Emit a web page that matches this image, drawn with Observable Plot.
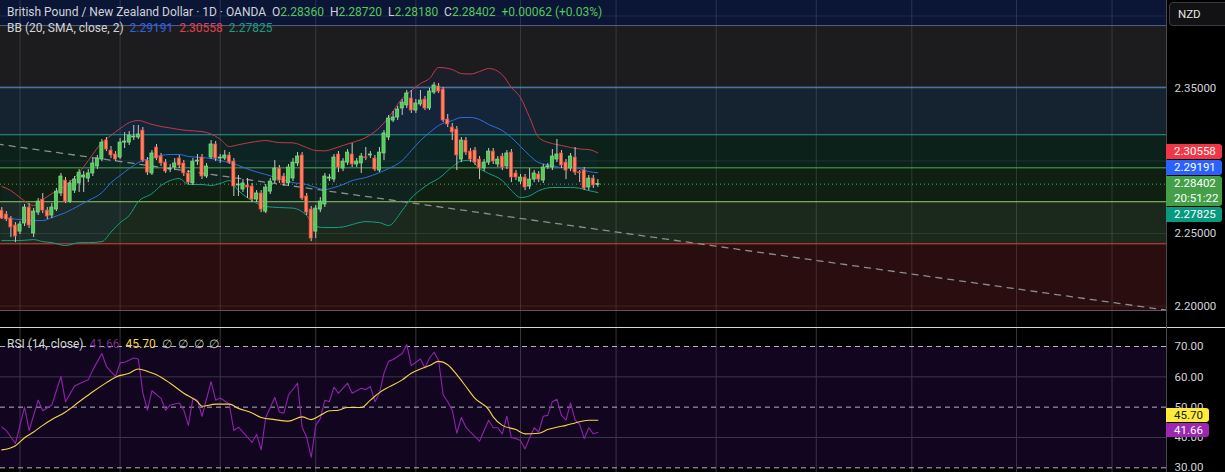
<!DOCTYPE html>
<html><head><meta charset="utf-8">
<script src="https://cdn.jsdelivr.net/npm/d3@7"></script>
<script src="https://cdn.jsdelivr.net/npm/@observablehq/plot@0.6"></script>
<style>
html,body{margin:0;padding:0;background:#000;}
#wrap{position:relative;width:1225px;height:472px;overflow:hidden;background:#000;font-family:Roboto,"Liberation Sans",sans-serif;font-size:11.5px;color:#d1d4dc;}
#main{position:absolute;left:0;top:0;}
#rsi{position:absolute;left:0;top:328px;}
.leg{position:absolute;left:7px;white-space:pre;line-height:14px;font-size:12px;}
.badge{position:absolute;left:1166px;color:#fff;padding-left:8px;border-radius:0 3px 3px 0;line-height:15px;height:15px;box-sizing:border-box;}
#nzd{position:absolute;left:1169px;top:2px;width:62px;height:24px;border:1px solid #3c3c40;border-radius:4px;background:#121214;color:#e6e6e6;box-sizing:border-box;padding-left:8px;line-height:22px;font-size:11.5px;}
</style></head>
<body><div id="wrap">
<div id="main"></div>
<div id="rsi"></div>
</div>
<script>
// ---------------- DATA ----------------
const title = "British Pound / New Zealand Dollar · 1D · OANDA";
const ohlcLegend = {O:"2.28360", H:"2.28720", L:"2.28180", C:"2.28402", chg:"+0.00062 (+0.03%)"};
const currency = "NZD";
const countdown = "20:51:22";

const candleOpen = [2.2658,2.2631,2.2603,2.2555,2.2513,2.2569,2.2679,2.2500,2.2644,2.2734,
2.2658,2.2624,2.2665,2.2776,2.2865,2.2720,2.2796,2.2845,2.2886,2.2879,
2.2914,2.2962,2.3010,2.3141,2.3072,2.3045,2.3024,2.3127,2.3127,2.3162,
2.3162,2.3210,2.3003,2.2914,2.3093,2.3031,2.2989,2.2941,2.2955,2.3017,
2.2983,2.2914,2.2845,2.2996,2.3024,2.2893,2.3024,2.3114,2.3017,2.3017,
2.3038,2.2996,2.2831,2.2803,2.2831,2.2824,2.2734,2.2776,2.2651,2.2789,
2.2865,2.2948,2.2893,2.2845,2.2879,2.2983,2.3038,2.2755,2.2665,2.2513,
2.2665,2.2700,2.2879,2.2872,2.3045,2.2948,2.2989,2.3045,2.2976,2.2983,
2.3024,2.3038,2.3017,2.2934,2.3052,2.3162,2.3279,2.3300,2.3362,2.3383,
2.3431,2.3348,2.3390,2.3424,2.3362,2.3472,2.3514,2.3493,2.3286,2.3231,
2.3217,2.3010,2.3141,2.3065,2.3072,2.3010,2.2948,2.2989,2.3065,2.2976,
2.3031,2.2962,2.3058,2.2914,2.2858,2.2886,2.2824,2.2872,2.2907,2.2865,
2.2958,2.2955,2.3010,2.3052,2.2989,2.2948,2.3024,2.2920,2.2934,2.2817,
2.2879,2.2836];
const candleHigh = [2.2679,2.2651,2.2617,2.2575,2.2582,2.2700,2.2707,2.2672,2.2741,2.2776,
2.2679,2.2707,2.2810,2.2914,2.2886,2.2865,2.2893,2.2941,2.2927,2.2941,
2.3017,2.3038,2.3148,2.3162,2.3100,2.3065,2.3155,2.3196,2.3203,2.3245,
2.3245,2.3231,2.3024,2.3072,2.3114,2.3052,2.3010,2.2976,2.3017,2.3038,
2.3003,2.2934,2.3017,2.3045,2.3045,2.2983,2.3141,2.3134,2.3045,2.3072,
2.3058,2.3017,2.2900,2.2872,2.2879,2.2845,2.2796,2.2796,2.2838,2.2879,
2.3003,2.2969,2.2914,2.2976,2.3017,2.3058,2.3058,2.2776,2.2686,2.2693,
2.2748,2.2914,2.2907,2.3045,2.3065,2.3017,2.3079,2.3121,2.3017,2.3052,
2.3093,2.3065,2.3038,2.3093,2.3210,2.3314,2.3341,2.3376,2.3424,2.3486,
2.3486,2.3424,2.3486,2.3445,2.3500,2.3541,2.3534,2.3507,2.3321,2.3259,
2.3238,2.3162,2.3162,2.3086,2.3093,2.3031,2.3010,2.3086,2.3086,2.3031,
2.3052,2.3072,2.3079,2.2934,2.2907,2.2907,2.2948,2.2934,2.2927,2.2976,
2.2983,2.3079,2.3148,2.3072,2.3010,2.3052,2.3093,2.2934,2.2955,2.2900,
2.2900,2.2872];
const candleLow = [2.2596,2.2582,2.2472,2.2437,2.2493,2.2548,2.2534,2.2472,2.2624,2.2637,
2.2596,2.2603,2.2651,2.2755,2.2707,2.2707,2.2776,2.2783,2.2783,2.2851,
2.2893,2.2941,2.2996,2.3065,2.3017,2.2996,2.3010,2.3086,2.3107,2.3141,
2.3148,2.2989,2.2900,2.2900,2.3003,2.2962,2.2914,2.2920,2.2934,2.2948,
2.2893,2.2838,2.2831,2.2969,2.2872,2.2879,2.3010,2.2996,2.2983,2.3003,
2.2976,2.2755,2.2755,2.2783,2.2741,2.2714,2.2714,2.2644,2.2637,2.2769,
2.2845,2.2845,2.2824,2.2824,2.2858,2.2962,2.2727,2.2624,2.2444,2.2465,
2.2644,2.2679,2.2858,2.2851,2.2920,2.2927,2.2969,2.2955,2.2955,2.2914,
2.3003,2.3017,2.2927,2.2920,2.3003,2.3141,2.3265,2.3279,2.3314,2.3362,
2.3328,2.3328,2.3376,2.3348,2.3348,2.3459,2.3466,2.3265,2.3231,2.3141,
2.2934,2.2989,2.3038,2.2989,2.2969,2.2872,2.2927,2.2969,2.2976,2.2955,
2.2934,2.2941,2.2851,2.2865,2.2838,2.2796,2.2803,2.2851,2.2851,2.2845,
2.2941,2.2934,2.2989,2.2948,2.2872,2.2927,2.2900,2.2851,2.2796,2.2796,
2.2810,2.2818];
const candleClose = [2.2603,2.2596,2.2541,2.2479,2.2562,2.2679,2.2555,2.2651,2.2720,2.2658,
2.2617,2.2679,2.2789,2.2893,2.2720,2.2845,2.2872,2.2920,2.2900,2.2914,
2.2983,2.3017,2.3127,2.3079,2.3038,2.3010,2.3127,2.3134,2.3176,2.3169,
2.3183,2.3003,2.2920,2.3052,2.3017,2.2983,2.2927,2.2948,2.2983,2.2969,
2.2914,2.2851,2.2996,2.3003,2.2893,2.2962,2.3114,2.3017,2.3024,2.3038,
2.2989,2.2824,2.2838,2.2845,2.2817,2.2734,2.2776,2.2665,2.2817,2.2858,
2.2948,2.2865,2.2845,2.2955,2.2989,2.3031,2.2741,2.2644,2.2465,2.2672,
2.2720,2.2893,2.2886,2.3024,2.2955,2.2996,2.3058,2.2976,2.2996,2.3031,
2.3020,2.3045,2.2941,2.3058,2.3190,2.3293,2.3300,2.3355,2.3403,2.3466,
2.3348,2.3397,2.3417,2.3362,2.3479,2.3521,2.3479,2.3279,2.3252,2.3197,
2.3038,2.3141,2.3058,2.3010,2.2989,2.2948,2.2989,2.3065,2.2996,2.3010,
2.2955,2.3052,2.2886,2.2886,2.2886,2.2817,2.2872,2.2914,2.2872,2.2955,
2.2962,2.3031,2.3045,2.2969,2.2934,2.3031,2.2920,2.2917,2.2810,2.2879,
2.2831,2.28402];

// Bollinger Bands (20, SMA, close, 2), read at these bar numbers
const bbBars = [0,2,4,7,9,11,14,17,19,22,24,26,28,30,33,35,37,39,41,44,46,48,50,52,55,58,61,64,67,69,71,73,75,77,80,83,85,88,90,92,94,96,99,101,103,105,107,110,112,114,116,118,121,123,125,127,129,131];
const bbUpper = [2.2824,2.2796,2.2748,2.2693,2.2734,2.2775,2.2831,2.2920,2.3003,2.3127,2.3176,2.3224,2.3265,2.3279,2.3252,2.3238,2.3228,2.3217,2.3210,2.3203,2.3186,2.3150,2.3100,2.3112,2.3130,2.3141,2.3127,2.3125,2.3093,2.3072,2.3070,2.3086,2.3107,2.3127,2.3162,2.3230,2.3300,2.3431,2.3486,2.3534,2.3569,2.3645,2.3631,2.3603,2.3600,2.3617,2.3638,2.3595,2.3507,2.3438,2.3300,2.3162,2.3120,2.3107,2.3093,2.3083,2.3079,2.30558];
const bbBasis = [2.2617,2.2603,2.2596,2.2589,2.2589,2.2610,2.2644,2.2693,2.2727,2.2782,2.2851,2.2900,2.2948,2.2989,2.3024,2.3038,2.3045,2.3045,2.3031,2.3024,2.3017,2.3003,2.2989,2.2969,2.2934,2.2907,2.2879,2.2851,2.2838,2.2817,2.2803,2.2817,2.2838,2.2865,2.2886,2.2920,2.2948,2.3003,2.3072,2.3141,2.3196,2.3245,2.3279,2.3300,2.3300,2.3286,2.3252,2.3210,2.3162,2.3100,2.3038,2.2989,2.2969,2.2955,2.2955,2.2948,2.2927,2.29191];
const bbLower = [2.2451,2.2451,2.2451,2.2458,2.2444,2.2437,2.2417,2.2437,2.2437,2.2444,2.2510,2.2575,2.2624,2.2720,2.2775,2.2831,2.2865,2.2879,2.2838,2.2838,2.2831,2.2845,2.2865,2.2796,2.2727,2.2686,2.2679,2.2675,2.2624,2.2548,2.2541,2.2541,2.2545,2.2562,2.2582,2.2575,2.2555,2.2658,2.2745,2.2800,2.2845,2.2879,2.2960,2.3000,2.3005,2.2948,2.2914,2.2865,2.2796,2.2748,2.2760,2.2795,2.2817,2.2817,2.2817,2.2812,2.2796,2.27825];

// RSI (14, close) and its moving average
const rsiBars = [0,1,3,5,6,8,9,11,13,14,16,17,19,20,22,23,25,26,27,29,30,31,32,33,35,36,37,39,40,41,42,43,44,46,47,48,50,51,52,55,56,57,58,60,61,62,63,64,65,66,67,68,69,70,71,72,73,74,76,77,79,80,81,82,83,84,85,86,88,89,90,91,92,93,94,95,96,97,98,99,100,101,102,103,105,106,107,108,109,110,111,112,113,114,115,116,117,118,119,120,121,122,123,124,125,126,127,128,129,130,131];
const rsiValues = [43.4,42.3,38,50,42.3,52.3,48.8,50.7,60.1,51.8,57,57.7,59,62.3,67.7,63.4,60.1,64.6,64.8,66.2,65.9,54.7,49,55.4,52.9,49,50.7,51.4,49,44,52.9,52.3,47,58.4,52.3,53,51,42.3,43.4,38.4,41,35.9,46.6,53.2,48.4,48,54,55.9,57.9,43.4,40.1,33.4,44,46.3,52.3,51.8,56.6,54.6,57.9,54.6,56.2,55.8,56.8,51.8,54.6,61.2,65.1,65.7,67.7,70.7,63.7,64.8,65.9,62.9,66.2,68.1,65.4,54,51.8,49,41.4,46.6,43.4,41.8,38.8,42.3,45.7,43.2,43.2,41.2,47,39.9,39.6,39,36.2,39.9,43.2,41.8,47,47.3,51.8,52.6,47.3,45.7,51.4,45.7,44.3,39.6,43.2,41.2,41.66];
const maBars = [0,3,5,7,9,11,14,17,20,23,25,28,30,32,34,37,40,43,44,47,50,52,55,57,60,63,66,68,70,72,74,76,79,81,83,85,88,90,92,94,96,98,100,102,104,107,108,110,113,115,118,120,122,124,126,129,131];
const maValues = [35.9,37.3,39.9,41.8,44,45.9,48.4,51.8,55.1,58.1,59.9,61.2,62.6,61.8,60.7,57.9,54.6,51.8,50.3,51,51,49.6,48.1,46.6,45.9,45.4,46.8,45.9,47.3,48.8,49,49.9,49.9,52.3,54.8,56.6,59,61.2,62.6,63.7,65.1,64,60.7,56.8,52.9,49.2,46.8,44,42.6,41.2,41.4,42.6,43.4,44,44.8,45.7,45.7];
const rsiLast = 41.66, maLast = 45.70;

// Drawings: horizontal zones (price levels), trend line
const zoneLevels = [2.4200, 2.3934, 2.3509, 2.3181, 2.2953, 2.2719, 2.2429, 2.1969];
const trendBars = [-1, 256];
const trendPrices = [2.3117, 2.1971];

// Axes / grid
const priceGrid = [2.40, 2.35, 2.30, 2.25, 2.20];
const priceTicks = [2.35, 2.25, 2.20];
const rsiTicks = [70, 60, 50, 40, 30];
const rsiDashed = [70, 50, 30];
const rsiSolid = [60, 40];
const gridBars = [4, 26, 48, 69, 91, 114, 135, 157, 179, 200, 223, 244];

// ---------------- STYLE ----------------
const zoneFills = ["#0b1535", "#1c1c1e", "#15222f", "#0b2119", "#0f1f12", "#1b291c", "#2a0d0f"];
const levelColors = ["#5a5e7a", "#5b9bd5", "#2a9d8f", "#4caf50", "#9ccc65", "#e0453f", "#6a5260"];
const UP = "#55cc5a", UPS = "#7fe08a", DN = "#ff8460", DNS = "#e8453c";
const W = 1225, PLOTR = 1166, XDOM = [-0.286, 255.97];
const MAIN_H = 327, RSI_H = 144;
const MAIN_Y = [2.18517, 2.41069], RSI_Y = [28.45, 75.94];
const font = "Roboto, 'Liberation Sans', sans-serif";

// ---------------- BUILD ----------------
const candles = candleOpen.map((o, i) => {
  const c = candleClose[i];
  let lo = Math.min(o, c), hi = Math.max(o, c);
  if (hi - lo < 0.0006) { const m = (hi + lo) / 2; lo = m - 0.0003; hi = m + 0.0003; }
  return {bar: i, open: o, high: candleHigh[i], low: candleLow[i], close: c, up: c >= o, lo, hi};
});
const bb = bbBars.map((b, i) => ({bar: b, upper: bbUpper[i], basis: bbBasis[i], lower: bbLower[i]}));
const zones = zoneFills.map((f, i) => ({top: zoneLevels[i], bottom: zoneLevels[i + 1], fill: f}));
const levels = zoneLevels.slice(1).map((v, i) => ({y: v, color: levelColors[i]}));
const trend = trendBars.map((b, i) => ({bar: b, price: trendPrices[i]}));
const rsi = rsiBars.map((b, i) => ({bar: b, v: rsiValues[i]}));
const ma = maBars.map((b, i) => ({bar: b, v: maValues[i]}));
const lastClose = candleClose[candleClose.length - 1];

const main = Plot.plot({
  width: W, height: MAIN_H, marginTop: 0, marginBottom: 0, marginLeft: 0, marginRight: W - PLOTR,
  style: {background: "transparent", fontFamily: font, fontSize: "11.5px", color: "#d1d4dc", overflow: "visible"},
  x: {domain: XDOM, axis: null},
  y: {domain: MAIN_Y, axis: null},
  marks: [
    Plot.rect(zones, {x1: () => XDOM[0], x2: () => XDOM[1], y1: "bottom", y2: "top", fill: "fill"}),
    Plot.ruleY(priceGrid, {stroke: "#ffffff", strokeOpacity: 0.09}),
    Plot.ruleX(gridBars, {stroke: "#ffffff", strokeOpacity: 0.13}),
    Plot.ruleY(levels, {y: "y", stroke: "color", strokeWidth: 1}),
    Plot.areaY(bb, {x: "bar", y1: "lower", y2: "upper", fill: "#2962ff", fillOpacity: 0.05, curve: "monotone-x"}),
    Plot.line(trend, {x: "bar", y: "price", stroke: "#8d8d8d", strokeWidth: 1.3, strokeDasharray: "6,6"}),
    Plot.ruleY([lastClose], {stroke: "#4caf50", strokeDasharray: "1,3", strokeWidth: 1}),
    Plot.line(bb, {x: "bar", y: "upper", stroke: "#c23a48", strokeWidth: 1, curve: "monotone-x"}),
    Plot.line(bb, {x: "bar", y: "basis", stroke: "#2f6ee0", strokeWidth: 1, curve: "monotone-x"}),
    Plot.line(bb, {x: "bar", y: "lower", stroke: "#16a083", strokeWidth: 1, curve: "monotone-x"}),
    Plot.ruleX(candles, {x: "bar", y1: "low", y2: "high", stroke: "#c8c8c8", strokeWidth: 1}),
    Plot.rect(candles, {x1: d => d.bar - 0.35, x2: d => d.bar + 0.35, y1: "lo", y2: "hi",
      fill: d => d.up ? UP : DN, stroke: d => d.up ? UPS : DNS, strokeWidth: 0.7}),
    Plot.axisY(priceTicks, {anchor: "right", tickSize: 0, tickPadding: 8, tickFormat: d3.format(".5f"), fill: "#d1d4dc", fontSize: 11.5, label: null})
  ]
});
document.getElementById("main").appendChild(main);

const rsiPlot = Plot.plot({
  width: W, height: RSI_H, marginTop: 0, marginBottom: 0, marginLeft: 0, marginRight: W - PLOTR,
  style: {background: "transparent", fontFamily: font, fontSize: "11.5px", color: "#d1d4dc", overflow: "visible"},
  x: {domain: XDOM, axis: null},
  y: {domain: RSI_Y, axis: null},
  marks: [
    Plot.rect([{lo: rsiDashed[2], hi: rsiDashed[0]}], {x1: () => XDOM[0], x2: () => XDOM[1], y1: "lo", y2: "hi", fill: "#120520"}),
    Plot.ruleY(rsiSolid, {stroke: "#3e3550"}),
    Plot.ruleX(gridBars, {stroke: "#3b3448"}),
    Plot.ruleY(rsiDashed, {stroke: "#b2b5be", strokeDasharray: "5,4", strokeWidth: 1}),
    Plot.line(rsi, {x: "bar", y: "v", stroke: "#8e24aa", strokeWidth: 1.1}),
    Plot.line(ma, {x: "bar", y: "v", stroke: "#f5d547", strokeWidth: 1.1, curve: "monotone-x"}),
    Plot.axisY(rsiTicks, {anchor: "right", tickSize: 0, tickPadding: 8, tickFormat: d3.format(".2f"), fill: "#d1d4dc", fontSize: 11.5, label: null})
  ]
});
document.getElementById("rsi").appendChild(rsiPlot);

// ---------------- OVERLAYS ----------------
const wrap = document.getElementById("wrap");
function el(html, css) { const d = document.createElement("div"); d.innerHTML = html; Object.assign(d.style, css); wrap.appendChild(d); return d; }
const yMain = d3.scaleLinear().domain(MAIN_Y).range([MAIN_H, 0]);
const yRsi = d3.scaleLinear().domain(RSI_Y).range([328 + RSI_H, 328]);

// separators
el("", {position: "absolute", left: "0px", top: "327px", width: W + "px", height: "1px", background: "#d6d6d6"});
el("", {position: "absolute", left: PLOTR + "px", top: "0px", width: "1px", height: "472px", background: "#4a4a4e"});

// legends
const G = "#55c95a";
const l1 = el(`${title}  <span>O</span><span style="color:${G}">${ohlcLegend.O}</span>  H<span style="color:${G}">${ohlcLegend.H}</span>  L<span style="color:${G}">${ohlcLegend.L}</span>  C<span style="color:${G}">${ohlcLegend.C}</span>  <span style="color:${G}">${ohlcLegend.chg}</span>`, {});
l1.className = "leg"; l1.style.top = "5px";
const bbLast = [bbBasis[bbBasis.length-1], bbUpper[bbUpper.length-1], bbLower[bbLower.length-1]];
const l2 = el(`BB (20, SMA, close, 2)  <span style="color:#2f62e6">${bbLast[0].toFixed(5)}</span>  <span style="color:#e0404c">${bbLast[1].toFixed(5)}</span>  <span style="color:#12a085">${bbLast[2].toFixed(5)}</span>`, {});
l2.className = "leg"; l2.style.top = "21px";
const l3 = el(`RSI (14, close)  <span style="color:#7b2d96">${rsiLast.toFixed(2)}</span>  <span style="color:#f5d547">${maLast.toFixed(2)}</span>  <span style="color:#c8c8c8">∅  ∅  ∅  ∅</span>`, {});
l3.className = "leg"; l3.style.top = "337px";

// price badges (stacked to avoid overlap)
const yc = yMain(lastClose), yb = yMain(bbLast[0]), yu = yMain(bbLast[1]), yl = yMain(bbLast[2]);
const gTop = yc - 7.5, gBot = gTop + 30;
const bBot = Math.min(yb + 7.5, gTop - 1), bTop = bBot - 15;
const rBot = Math.min(yu + 7.5, bTop - 1), rTop = rBot - 15;
const tTop = Math.max(yl - 7.5, gBot + 0.5);
function badge(text, top, bg, h, color) {
  const d = el(text, {top: top + "px", background: bg, height: (h || 15) + "px", width: "56px", color: color || "#fff"});
  d.className = "badge"; return d;
}
badge(bbLast[1].toFixed(5), rTop, "#f23645");
badge(bbLast[0].toFixed(5), bTop, "#2962ff");
badge(lastClose.toFixed(5) + "<br>" + countdown, gTop, "#43a047", 30);
badge(bbLast[2].toFixed(5), tTop, "#089981");
const pTop = yRsi(rsiLast) - 9, yTop = pTop - 15;
const rb1 = badge(maLast.toFixed(2), yTop, "#ffeb3b", 14, "#131722"); rb1.style.width = "43px"; rb1.style.lineHeight = "14px";
const rb2 = badge(rsiLast.toFixed(2), pTop, "#9c27b0", 14); rb2.style.width = "43px"; rb2.style.lineHeight = "14px";

// currency button
el(currency, {}).id = "nzd";
</script>
</body></html>
